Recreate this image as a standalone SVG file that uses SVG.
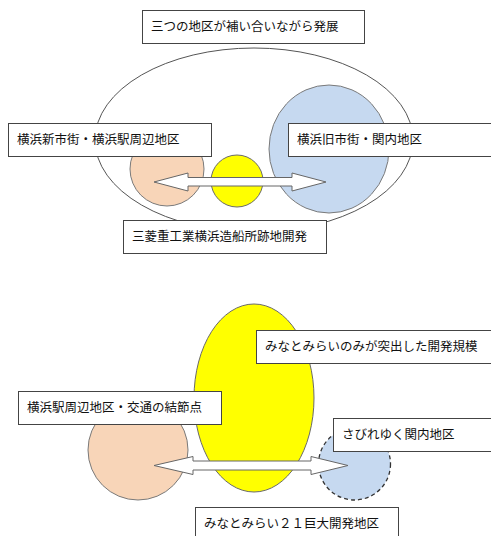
<svg xmlns="http://www.w3.org/2000/svg" width="491" height="536" viewBox="0 0 491 536">
<style>
.box{fill:#fff;stroke:#444;stroke-width:1}
.t{font-family:"Noto Sans CJK JP","Noto Sans CJK SC",sans-serif;font-size:12.5px;fill:#111}
.peach{fill:#F8D5B8;stroke:#7a7a7a;stroke-width:1}
.blue{fill:#C6D9F0;stroke:#7a7a7a;stroke-width:1}
.yellow{fill:#FFFF00;stroke:#6a6a6a;stroke-width:1}
.arrow{fill:#fff;stroke:#666;stroke-width:1}
</style>
<rect width="491" height="536" fill="#fff"/>
<g id="outer"><ellipse cx="254" cy="140" rx="159" ry="92" fill="none" stroke="#555" stroke-width="1"/></g>
<g id="peach1"><circle class="peach" cx="167" cy="169" r="37"/></g>
<g id="yellow1"><circle class="yellow" cx="237" cy="181" r="26"/></g>
<g id="blue1"><ellipse class="blue" cx="329" cy="149" rx="60" ry="64"/></g>
<g id="peach2"><circle class="peach" cx="138" cy="450" r="50"/></g>
<g id="yellow2"><ellipse class="yellow" cx="254" cy="398" rx="60" ry="94"/></g>
<g id="blue2"><circle cx="354.5" cy="464" r="36" fill="#C6D9F0" stroke="#333" stroke-width="1.3" stroke-dasharray="4,3"/></g>
<g id="connectors">
<polygon class="arrow" points="154,182 188,173 188,177.5 292,177.5 292,173 326,182 292,191 292,186 188,186 188,191"/>
<polygon class="arrow" points="154,465.5 193,456.5 193,461 311,461 311,456.5 348,465.5 311,474.5 311,470 193,470 193,474.5"/>
</g>
<g id="title"><rect class="box" x="142.5" y="10.5" width="222" height="33"/><text class="t" x="151" y="31">三つの地区が補い合いながら発展</text></g>
<g id="left1"><rect class="box" x="8.5" y="123.5" width="203" height="33"/><text class="t" x="17" y="144">横浜新市街・横浜駅周辺地区</text></g>
<g id="right1"><rect class="box" x="288.5" y="123.5" width="205" height="33"/><text class="t" x="297" y="144">横浜旧市街・関内地区</text></g>
<g id="bottom1"><rect class="box" x="123.5" y="220.5" width="203" height="33"/><text class="t" x="132" y="241">三菱重工業横浜造船所跡地開発</text></g>
<g id="scale"><rect class="box" x="256.5" y="330.5" width="237" height="33"/><text class="t" x="265" y="351">みなとみらいのみが突出した開発規模</text></g>
<g id="yokohama2"><rect class="box" x="18.5" y="391.5" width="203" height="33"/><text class="t" x="27" y="412">横浜駅周辺地区・交通の結節点</text></g>
<g id="kannai2"><rect class="box" x="333.5" y="418.5" width="160" height="33"/><text class="t" x="342" y="439">さびれゆく関内地区</text></g>
<g id="mm21"><rect class="box" x="195.5" y="507.5" width="203" height="33"/><text class="t" x="204" y="528">みなとみらい２１巨大開発地区</text></g>
</svg>
